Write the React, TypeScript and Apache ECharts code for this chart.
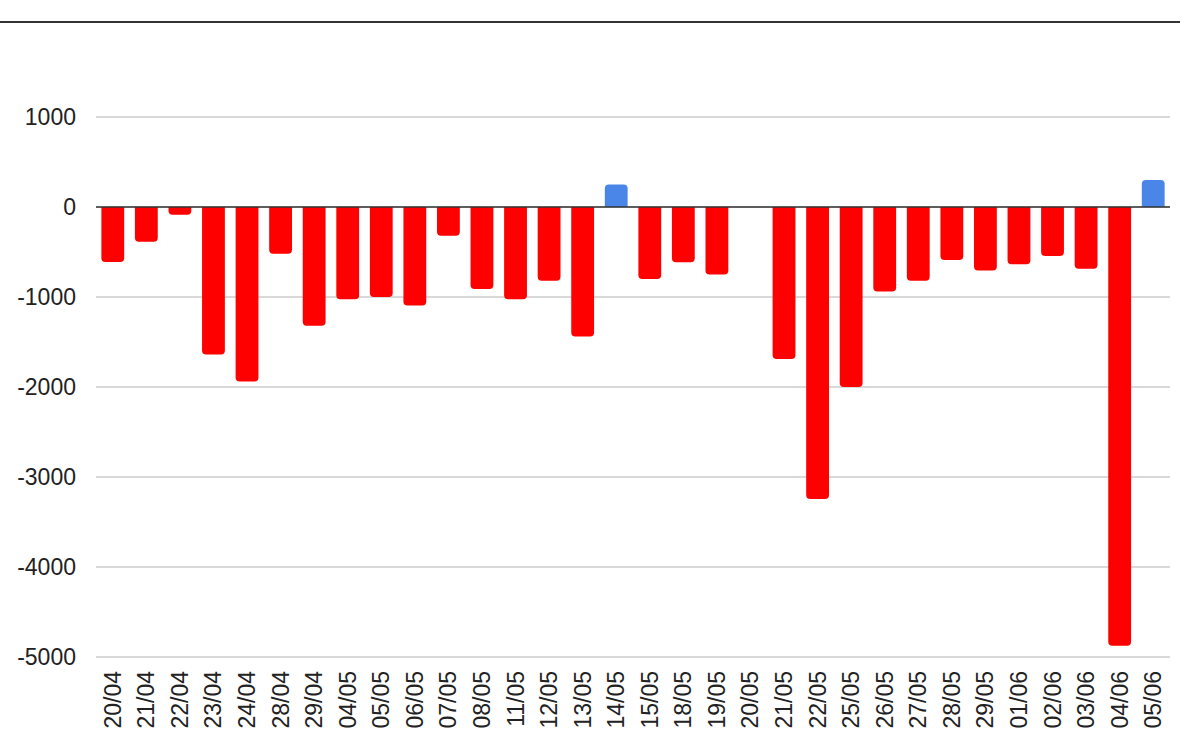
import React, { useEffect, useRef } from "react";
import * as echarts from "echarts";

const categories = [
  "20/04", "21/04", "22/04", "23/04", "24/04", "28/04", "29/04", "04/05",
  "05/05", "06/05", "07/05", "08/05", "11/05", "12/05", "13/05", "14/05",
  "15/05", "18/05", "19/05", "20/05", "21/05", "22/05", "25/05", "26/05",
  "27/05", "28/05", "29/05", "01/06", "02/06", "03/06", "04/06", "05/06",
];

const values = [
  -610, -385, -85, -1640, -1940, -520, -1320, -1025,
  -1000, -1095, -320, -910, -1025, -820, -1440, 250,
  -800, -615, -750, 0, -1690, -3245, -2000, -940,
  -820, -590, -705, -635, -545, -685, -4875, 300,
];

const yTicks = { min: -5000, max: 1000, interval: 1000 };

export default function App() {
  const ref = useRef<HTMLDivElement>(null);
  useEffect(() => {
    if (!ref.current) return;
    const chart = echarts.init(ref.current, undefined, { renderer: "svg" });
    chart.setOption({
      animation: false,
      backgroundColor: "#ffffff",
      textStyle: { fontFamily: "'Liberation Sans', Arial, sans-serif" },
      graphic: [
        {
          type: "line",
          shape: { x1: 0, y1: 22, x2: 1180, y2: 22 },
          style: { stroke: "#333333", lineWidth: 2 },
        },
      ],
      grid: { left: 96, right: 30, top: 117, bottom: 78, containLabel: false },
      xAxis: {
        type: "category",
        data: categories,
        axisLine: { show: false },
        axisTick: { show: false },
        axisLabel: {
          rotate: 90,
          interval: 0,
          fontSize: 23,
          color: "#222222",
          margin: 14,
        },
      },
      yAxis: {
        type: "value",
        min: yTicks.min,
        max: yTicks.max,
        interval: yTicks.interval,
        axisLine: { show: false },
        axisTick: { show: false },
        axisLabel: {
          fontSize: 23,
          color: "#222222",
          margin: 20,
          formatter: (v: number) => String(v),
        },
        splitLine: { lineStyle: { color: "#cccccc", width: 1.5 } },
      },
      series: [
        {
          type: "bar",
          barCategoryGap: "32%",
          data: values.map((v) => ({
            value: v,
            itemStyle: {
              color: v >= 0 ? "#4a86e8" : "#ff0000",
              borderRadius: v >= 0 ? [4, 4, 0, 0] : [0, 0, 4, 4],
            },
          })),
          markLine: {
            silent: true,
            symbol: "none",
            label: { show: false },
            lineStyle: { color: "#333333", width: 1.5, type: "solid" },
            data: [{ yAxis: 0 }],
          },
          z: 2,
        },
      ],
    });
    return () => chart.dispose();
  }, []);
  return (
    <div
      ref={ref}
      style={{ position: "fixed", left: 0, top: 0, width: 1200, height: 735 }}
    />
  );
}
